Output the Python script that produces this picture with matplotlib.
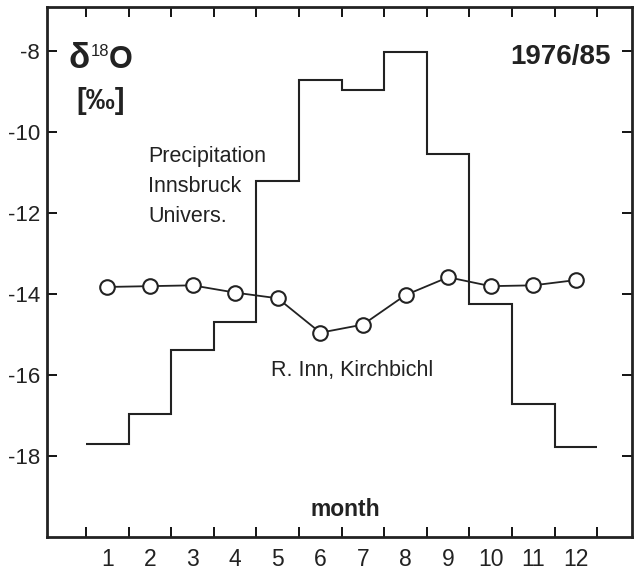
import matplotlib
matplotlib.use('Agg')
import matplotlib.pyplot as plt
from matplotlib import rcParams
from matplotlib.ticker import FixedLocator, NullFormatter

rcParams['font.family'] = ['Liberation Sans', 'DejaVu Sans']
rcParams['axes.unicode_minus'] = False

# monthly mean d18O values, 1976/85
months = list(range(1, 13))
month_edges = [m - 0.5 for m in range(1, 14)]
precip_innsbruck = [-17.7, -16.95, -15.38, -14.68, -11.2, -8.71, -8.96, -8.02,
                    -10.53, -14.24, -16.70, -17.77]
inn_kirchbichl = [-13.82, -13.80, -13.78, -13.96, -14.10, -14.95, -14.75, -14.02,
                  -13.58, -13.80, -13.78, -13.65]
y_ticks = [-18, -16, -14, -12, -10, -8]

ink = '#222222'

fig = plt.figure(figsize=(6.34, 5.72), dpi=100)
ax = fig.add_axes([0.074, 0.061, 0.923, 0.927])

# Niederschlag als Treppenlinie
ax.stairs(precip_innsbruck, month_edges, baseline=None, color=ink, lw=1.5)
# Inn als Linie mit offenen Kreisen
ax.plot(months, inn_kirchbichl, color=ink, lw=1.3, marker='o', ms=10.5,
        mfc='white', mec=ink, mew=1.5, zorder=3)

ax.set_xlim(-0.42, 13.32)
ax.set_ylim(-20, -6.9)

# Striche an den Monatsgrenzen, Beschriftung in der Monatsmitte
ax.xaxis.set_major_locator(FixedLocator(month_edges))
ax.xaxis.set_major_formatter(NullFormatter())
ax.xaxis.set_minor_locator(FixedLocator(months))
ax.set_xticklabels([str(m) for m in months], minor=True)
ax.tick_params(axis='x', which='major', direction='in', length=7, width=1.3,
               top=True, bottom=True)
ax.tick_params(axis='x', which='minor', length=0, pad=8, labelsize=16.5, labelcolor=ink)

ax.set_yticks(y_ticks)
ax.set_yticklabels([str(v) for v in y_ticks])
ax.tick_params(axis='y', direction='in', length=7, width=1.3, left=True, right=True,
               pad=5, labelsize=16, labelcolor=ink)

for sp in ax.spines.values():
    sp.set_linewidth(2.0)
    sp.set_color(ink)

ax.text(0.08, -8.40, 'δ', fontsize=25, fontweight='bold', ha='left', va='baseline', color=ink)
ax.text(0.61, -8.12, '18', fontsize=12, ha='left', va='baseline', color=ink)
ax.text(1.04, -8.40, 'O', fontsize=22, fontweight='bold', ha='left', va='baseline', color=ink)
ax.text(0.27, -9.23, '[‰]', fontsize=21, fontweight='bold', ha='left', va='center', color=ink)
ax.text(12.83, -8.30, '1976/85', fontsize=20, fontweight='bold', ha='right', va='baseline',
        color=ink)
ax.text(1.96, -12.21, 'Precipitation\nInnsbruck\nUnivers.', fontsize=15.5,
        ha='left', va='baseline', linespacing=1.55, color=ink)
ax.text(4.84, -16.02, 'R. Inn, Kirchbichl', fontsize=15.5, ha='left', va='baseline',
        color=ink)
ax.text(6.58, -19.49, 'month', fontsize=16.5, fontweight='bold', ha='center',
        va='baseline', color=ink)

fig.savefig('out.png', dpi=100)
